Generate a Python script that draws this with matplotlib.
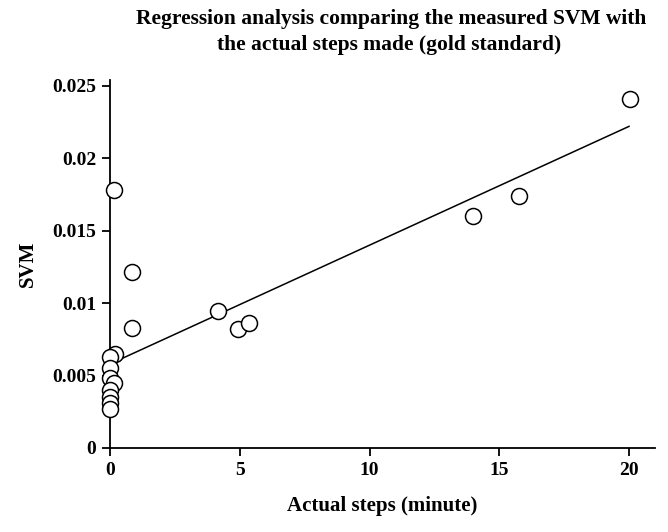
import numpy as np
import matplotlib
matplotlib.use('Agg')
import matplotlib.pyplot as plt

plt.rcParams['font.family'] = ['Liberation Serif', 'DejaVu Serif']
plt.rcParams['font.weight'] = 'bold'

# actual steps (minute) vs measured SVM
steps = [0.15, 0.85, 0.85, 4.15, 4.95, 5.35, 14.0, 15.75, 20.05,
         0.2, 0.0, 0.0, 0.0, 0.15, 0.0, 0.0, 0.0, 0.0]
svm = [0.0178, 0.01215, 0.0083, 0.00945, 0.0082, 0.00863, 0.0160, 0.0174, 0.0241,
       0.0065, 0.0063, 0.0055, 0.0048, 0.0045, 0.0040, 0.0035, 0.0031, 0.0027]

# regression line
intercept = 0.0058
slope = 0.000820
line_x = [0.15, 20.0]

xticks = [0, 5, 10, 15, 20]
yticks = [0, 0.005, 0.01, 0.015, 0.02, 0.025]
ytick_labels = ['0', '0.005', '0.01', '0.015', '0.02', '0.025']

fig = plt.figure(figsize=(6.68, 5.32), dpi=100)
ax = fig.add_axes([0.1647, 0.1579, 0.8158, 0.6917])

lx = np.array(line_x)
ax.plot(lx, intercept + slope * lx, color='black', lw=1.1, zorder=2)
ax.plot(steps, svm, 'o', ms=11.5, mfc='white', mec='black', mew=1.1, zorder=3, clip_on=False)

ax.set_xlim(0, 21)
ax.set_ylim(0, 0.0254)
ax.set_xticks(xticks)
ax.set_yticks(yticks)
ax.set_yticklabels(ytick_labels)
ax.tick_params(direction='out', length=6, width=1.3, labelsize=14, pad=4)
for s in ['top', 'right']:
    ax.spines[s].set_visible(False)
for s in ['left', 'bottom']:
    ax.spines[s].set_linewidth(1.3)

ax.set_xlabel('Actual steps (minute)', fontsize=15, fontweight='bold', labelpad=12)
ax.set_ylabel('SVM', fontsize=15, fontweight='bold', labelpad=10)
fig.text(0.585, 0.965, 'Regression analysis comparing the measured SVM with',
         ha='center', va='center', fontsize=15.5, fontweight='bold')
fig.text(0.583, 0.915, 'the actual steps made (gold standard)',
         ha='center', va='center', fontsize=15.5, fontweight='bold')

fig.savefig('out.png', dpi=100)
